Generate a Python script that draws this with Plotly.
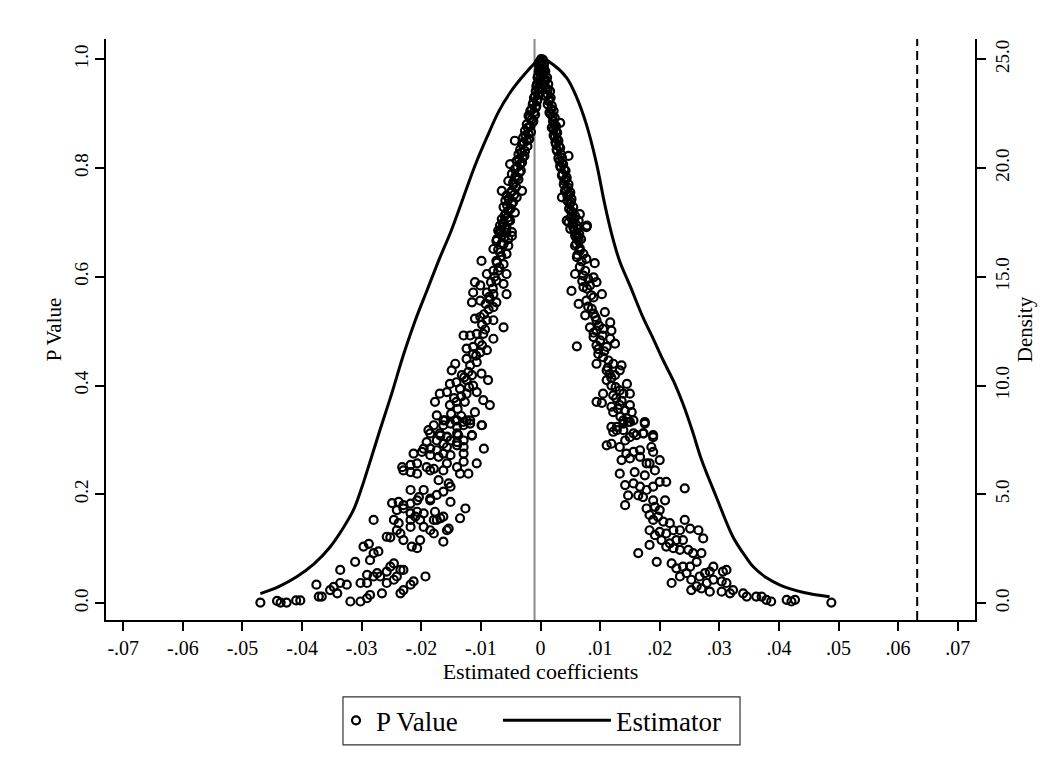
import plotly.graph_objects as go

# ---------------- data ----------------
# kernel density of the estimated coefficients (right axis)
dens_x = [-0.0470, -0.0440, -0.0409, -0.0380, -0.0353, -0.0330, -0.0314, -0.0300, -0.0286,
          -0.0270, -0.0250, -0.0230, -0.0210, -0.0190, -0.0170, -0.0150, -0.0130, -0.0110,
          -0.0090, -0.0070, -0.0050, -0.0030, -0.0012, 0.0001, 0.0021, 0.0044, 0.0061,
          0.0077, 0.0094, 0.0108, 0.0120, 0.0133, 0.0150, 0.0172, 0.0190, 0.0206, 0.0225,
          0.0239, 0.0255, 0.0270, 0.0295, 0.0323, 0.0345, 0.0357, 0.0380, 0.0402, 0.0440, 0.0485]
dens_y = [0.44, 0.75, 1.21, 1.80, 2.58, 3.50, 4.27, 5.30, 6.50,
          7.90, 9.60, 11.40, 13.00, 14.40, 15.80, 17.10, 18.60, 20.10,
          21.40, 22.60, 23.50, 24.20, 24.75, 25.05, 24.75, 24.14, 23.22,
          22.00, 20.20, 18.30, 16.90, 15.70, 14.60, 13.13, 12.10, 11.15, 10.10,
          9.16, 7.90, 6.60, 4.88, 3.04, 2.10, 1.67, 1.15, 0.83, 0.50, 0.29]

# placebo estimates and their p values, left branch, upper part
coef_a = [0.0001, -0.0001, -0.0002, 0.0002, -0.0003, 0.0000, -0.0005, -0.0001, -0.0006, -0.0003,
          -0.0008, -0.0004, -0.0011, -0.0006, -0.0013, -0.0008, -0.0017, -0.0011, -0.0020, -0.0015,
          -0.0012, -0.0023, -0.0017, -0.0026, -0.0020, -0.0029, -0.0023, -0.0031, -0.0043, -0.0034,
          -0.0026, -0.0037, -0.0030, -0.0040, -0.0034, -0.0051, -0.0043, -0.0035, -0.0048, -0.0040,
          -0.0054, -0.0045, -0.0065, -0.0048, -0.0031, -0.0057, -0.0040, -0.0059, -0.0048, -0.0062,
          -0.0054, -0.0043, -0.0059, -0.0065, -0.0051, -0.0068, -0.0057, -0.0071, -0.0048, -0.0065,
          -0.0073, -0.0054,
          -0.0003, 0.0001, -0.0004, 0.0000, -0.0007, -0.0002, -0.0009, -0.0005, -0.0012, -0.0007,
          -0.0015, -0.0009, -0.0018, -0.0013, -0.0021, -0.0016, -0.0025, -0.0019, -0.0028, -0.0022,
          -0.0032, -0.0027, -0.0036, -0.0031, -0.0039, -0.0033, -0.0042, -0.0037, -0.0046, -0.0041,
          -0.0050, -0.0044, -0.0053, -0.0046, -0.0056, -0.0050, -0.0060, -0.0055, -0.0063, -0.0059,
          -0.0067, -0.0061]
pval_a = [1.000, 0.996, 0.987, 0.990, 0.978, 0.975, 0.966, 0.963, 0.954, 0.947,
          0.941, 0.935, 0.929, 0.923, 0.917, 0.911, 0.905, 0.902, 0.896, 0.889,
          0.886, 0.880, 0.877, 0.868, 0.862, 0.856, 0.850, 0.844, 0.850, 0.834,
          0.831, 0.825, 0.819, 0.813, 0.807, 0.807, 0.798, 0.792, 0.789, 0.782,
          0.776, 0.770, 0.758, 0.758, 0.758, 0.749, 0.746, 0.740, 0.734, 0.728,
          0.721, 0.718, 0.715, 0.706, 0.703, 0.694, 0.691, 0.685, 0.682, 0.676,
          0.669, 0.669,
          0.993, 0.982, 0.970, 0.958, 0.950, 0.944, 0.932, 0.926, 0.920, 0.914,
          0.908, 0.898, 0.892, 0.884, 0.874, 0.866, 0.860, 0.853, 0.847, 0.840,
          0.828, 0.822, 0.816, 0.810, 0.802, 0.795, 0.785, 0.779, 0.773, 0.765,
          0.754, 0.751, 0.743, 0.737, 0.731, 0.725, 0.712, 0.709, 0.697, 0.688,
          0.680, 0.672]

# right branch, upper part
coef_b = [0.0004, 0.0006, 0.0003, 0.0008, 0.0005, 0.0011, 0.0007, 0.0013, 0.0009, 0.0016,
          0.0012, 0.0017, 0.0014, 0.0019, 0.0022, 0.0017, 0.0024, 0.0021, 0.0033, 0.0026,
          0.0022, 0.0028, 0.0024, 0.0030, 0.0026, 0.0033, 0.0028, 0.0047, 0.0036, 0.0032,
          0.0038, 0.0034, 0.0042, 0.0037, 0.0044, 0.0040, 0.0036, 0.0047, 0.0043, 0.0050,
          0.0045, 0.0052, 0.0049, 0.0055, 0.0066, 0.0051, 0.0058, 0.0044, 0.0054, 0.0061,
          0.0078, 0.0057, 0.0065, 0.0060, 0.0068,
          0.0002, 0.0006, 0.0003, 0.0009, 0.0006, 0.0012, 0.0009, 0.0015, 0.0012, 0.0018,
          0.0015, 0.0020, 0.0023, 0.0019, 0.0026, 0.0022, 0.0028, 0.0025, 0.0031, 0.0027,
          0.0034, 0.0030, 0.0036, 0.0033, 0.0040, 0.0036, 0.0042, 0.0039, 0.0046, 0.0041,
          0.0048, 0.0045, 0.0051, 0.0048, 0.0054, 0.0051, 0.0057, 0.0055, 0.0062, 0.0058,
          0.0064]
pval_b = [0.999, 0.990, 0.984, 0.978, 0.972, 0.966, 0.960, 0.954, 0.947, 0.941,
          0.935, 0.929, 0.923, 0.914, 0.905, 0.899, 0.892, 0.886, 0.883, 0.877,
          0.871, 0.865, 0.856, 0.850, 0.844, 0.837, 0.831, 0.822, 0.819, 0.813,
          0.807, 0.801, 0.795, 0.789, 0.782, 0.776, 0.746, 0.770, 0.761, 0.755,
          0.749, 0.743, 0.734, 0.728, 0.715, 0.721, 0.712, 0.703, 0.700, 0.694,
          0.694, 0.685, 0.679, 0.672, 0.669,
          0.993, 0.981, 0.969, 0.962, 0.952, 0.944, 0.932, 0.926, 0.917, 0.908,
          0.902, 0.895, 0.880, 0.874, 0.868, 0.860, 0.853, 0.847, 0.840, 0.834,
          0.826, 0.818, 0.810, 0.804, 0.797, 0.786, 0.779, 0.770, 0.764, 0.758,
          0.751, 0.740, 0.737, 0.725, 0.718, 0.709, 0.706, 0.691, 0.688, 0.676,
          0.672]

# left branch, middle part
coef_c = [-0.0062, -0.0054, -0.0068, -0.0057, -0.0048, -0.0074, -0.0062, -0.0054, -0.0079, -0.0068,
          -0.0057, -0.0099, -0.0074, -0.0062, -0.0090, -0.0079, -0.0071, -0.0057, -0.0110, -0.0101,
          -0.0074, -0.0062, -0.0113, -0.0090, -0.0079, -0.0057, -0.0115, -0.0101, -0.0085, -0.0074,
          -0.0079, -0.0110, -0.0101, -0.0090, -0.0079, -0.0062, -0.0129, -0.0118, -0.0107, -0.0096,
          -0.0079, -0.0124, -0.0113, -0.0101, -0.0090, -0.0113, -0.0107, -0.0124, -0.0143, -0.0149,
          -0.0132, -0.0115, -0.0099, -0.0152, -0.0141, -0.0124, -0.0113, -0.0088, -0.0169, -0.0157,
          -0.0135, -0.0124, -0.0107, -0.0096, -0.0177, -0.0152, -0.0141, -0.0127, -0.0085, -0.0174,
          -0.0160, -0.0143, -0.0129, -0.0124, -0.0110, -0.0099, -0.0188, -0.0169, -0.0157, -0.0138,
          -0.0115,
          -0.0065, -0.0071, -0.0066, -0.0073, -0.0069, -0.0077, -0.0083, -0.0080, -0.0086, -0.0092,
          -0.0087, -0.0095, -0.0098, -0.0093, -0.0103, -0.0098, -0.0108, -0.0118, -0.0121, -0.0128,
          -0.0120, -0.0133, -0.0145, -0.0139, -0.0150, -0.0133]
pval_c = [0.700, 0.703, 0.684, 0.681, 0.675, 0.666, 0.660, 0.657, 0.651, 0.645,
          0.642, 0.629, 0.629, 0.623, 0.605, 0.611, 0.611, 0.605, 0.590, 0.584,
          0.593, 0.587, 0.571, 0.571, 0.568, 0.568, 0.553, 0.556, 0.559, 0.553,
          0.544, 0.523, 0.526, 0.520, 0.520, 0.507, 0.492, 0.492, 0.495, 0.495,
          0.486, 0.468, 0.471, 0.461, 0.465, 0.458, 0.443, 0.449, 0.440, 0.428,
          0.419, 0.419, 0.422, 0.403, 0.406, 0.410, 0.400, 0.410, 0.385, 0.388,
          0.394, 0.385, 0.388, 0.373, 0.370, 0.364, 0.370, 0.370, 0.364, 0.345,
          0.336, 0.336, 0.333, 0.336, 0.351, 0.327, 0.318, 0.312, 0.306, 0.309,
          0.309,
          0.662, 0.650, 0.638, 0.626, 0.617, 0.600, 0.590, 0.578, 0.563, 0.550,
          0.540, 0.531, 0.512, 0.503, 0.480, 0.474, 0.455, 0.437, 0.425, 0.415,
          0.397, 0.380, 0.377, 0.357, 0.348, 0.344]

# right branch, middle part
coef_d = [0.0047, 0.0055, 0.0064, 0.0077, 0.0050, 0.0061, 0.0064, 0.0058, 0.0066, 0.0072,
          0.0061, 0.0077, 0.0091, 0.0058, 0.0072, 0.0080, 0.0089, 0.0094, 0.0052, 0.0072,
          0.0083, 0.0064, 0.0077, 0.0089, 0.0103, 0.0075, 0.0089, 0.0094, 0.0108, 0.0083,
          0.0094, 0.0105, 0.0117, 0.0119, 0.0089, 0.0100, 0.0117, 0.0125, 0.0061, 0.0094,
          0.0111, 0.0097, 0.0105, 0.0114, 0.0122, 0.0136, 0.0094, 0.0111, 0.0125, 0.0133,
          0.0111, 0.0119, 0.0145, 0.0133, 0.0105, 0.0122, 0.0139, 0.0150, 0.0094, 0.0103,
          0.0119, 0.0133, 0.0150, 0.0122, 0.0142, 0.0153, 0.0139, 0.0150, 0.0175, 0.0128,
          0.0139, 0.0156, 0.0173, 0.0189, 0.0122,
          0.0060, 0.0066, 0.0062, 0.0069, 0.0066, 0.0075, 0.0070, 0.0078, 0.0085, 0.0080,
          0.0086, 0.0092, 0.0098, 0.0089, 0.0104, 0.0097, 0.0107, 0.0113, 0.0116, 0.0119,
          0.0126, 0.0127, 0.0136, 0.0130, 0.0134, 0.0145]
pval_d = [0.700, 0.697, 0.703, 0.691, 0.688, 0.678, 0.666, 0.657, 0.648, 0.642,
          0.636, 0.633, 0.625, 0.605, 0.602, 0.596, 0.599, 0.590, 0.574, 0.581,
          0.584, 0.550, 0.556, 0.562, 0.568, 0.529, 0.532, 0.520, 0.535, 0.507,
          0.501, 0.504, 0.516, 0.501, 0.489, 0.483, 0.486, 0.477, 0.472, 0.474,
          0.471, 0.458, 0.452, 0.446, 0.440, 0.437, 0.440, 0.428, 0.419, 0.428,
          0.410, 0.400, 0.403, 0.391, 0.385, 0.382, 0.385, 0.385, 0.370, 0.368,
          0.361, 0.364, 0.364, 0.351, 0.354, 0.351, 0.336, 0.333, 0.333, 0.324,
          0.318, 0.312, 0.312, 0.309, 0.315,
          0.660, 0.652, 0.640, 0.628, 0.618, 0.611, 0.592, 0.578, 0.566, 0.545,
          0.541, 0.526, 0.510, 0.497, 0.492, 0.467, 0.463, 0.433, 0.421, 0.414,
          0.397, 0.377, 0.372, 0.357, 0.343, 0.340]

# left branch, lower part
coef_e = [-0.0470, -0.0442, -0.0436, -0.0426, -0.0410, -0.0403, -0.0372, -0.0367, -0.0376, -0.0353,
          -0.0347, -0.0336, -0.0336, -0.0325, -0.0341, -0.0319, -0.0302, -0.0291, -0.0286, -0.0266,
          -0.0235, -0.0230, -0.0218, -0.0213, -0.0193, -0.0302, -0.0291, -0.0280, -0.0274, -0.0269,
          -0.0258, -0.0246, -0.0241, -0.0235, -0.0230, -0.0252, -0.0246, -0.0258, -0.0280, -0.0286,
          -0.0291, -0.0311, -0.0297, -0.0288, -0.0272, -0.0258, -0.0252, -0.0241, -0.0235, -0.0230,
          -0.0218, -0.0216, -0.0207, -0.0202, -0.0196, -0.0185, -0.0179, -0.0174, -0.0163, -0.0157,
          -0.0154, -0.0280, -0.0246, -0.0238, -0.0218, -0.0210, -0.0202, -0.0179, -0.0168, -0.0135,
          -0.0241, -0.0230, -0.0218, -0.0207, -0.0196, -0.0177, -0.0163, -0.0126, -0.0249, -0.0238,
          -0.0230, -0.0218, -0.0207, -0.0185, -0.0151, -0.0218, -0.0204, -0.0196, -0.0185, -0.0174,
          -0.0163, -0.0171, -0.0154, -0.0151, -0.0230, -0.0218, -0.0207, -0.0185, -0.0163, -0.0135,
          -0.0121, -0.0232, -0.0218, -0.0207, -0.0191, -0.0179, -0.0157, -0.0140, -0.0129, -0.0107,
          -0.0213, -0.0199, -0.0185, -0.0171, -0.0163, -0.0151, -0.0129, -0.0196, -0.0185, -0.0174,
          -0.0157, -0.0140, -0.0129, -0.0095, -0.0191, -0.0174, -0.0163, -0.0151, -0.0140, -0.0129,
          -0.0185, -0.0168, -0.0157, -0.0140, -0.0115, -0.0179, -0.0163, -0.0151, -0.0140, -0.0129,
          -0.0118, -0.0098, -0.0163, -0.0140, -0.0118]
pval_e = [0.001, 0.004, 0.001, 0.001, 0.005, 0.005, 0.012, 0.012, 0.034, 0.024,
          0.030, 0.037, 0.061, 0.034, 0.018, 0.003, 0.003, 0.009, 0.015, 0.018,
          0.018, 0.024, 0.034, 0.040, 0.049, 0.037, 0.037, 0.049, 0.055, 0.049,
          0.037, 0.043, 0.049, 0.061, 0.061, 0.067, 0.073, 0.058, 0.092, 0.079,
          0.052, 0.076, 0.104, 0.109, 0.095, 0.122, 0.121, 0.134, 0.128, 0.116,
          0.140, 0.104, 0.101, 0.116, 0.140, 0.134, 0.128, 0.153, 0.113, 0.134,
          0.137, 0.153, 0.153, 0.147, 0.153, 0.159, 0.153, 0.153, 0.156, 0.156,
          0.171, 0.174, 0.165, 0.168, 0.165, 0.168, 0.159, 0.174, 0.184, 0.186,
          0.180, 0.183, 0.189, 0.189, 0.186, 0.208, 0.195, 0.208, 0.192, 0.199,
          0.205, 0.226, 0.220, 0.214, 0.244, 0.241, 0.238, 0.244, 0.244, 0.238,
          0.238, 0.250, 0.254, 0.257, 0.250, 0.247, 0.257, 0.250, 0.260, 0.257,
          0.275, 0.278, 0.272, 0.269, 0.275, 0.272, 0.275, 0.284, 0.284, 0.281,
          0.287, 0.290, 0.287, 0.284, 0.296, 0.299, 0.293, 0.299, 0.296, 0.299,
          0.312, 0.308, 0.305, 0.312, 0.308, 0.327, 0.327, 0.330, 0.324, 0.327,
          0.330, 0.327, 0.336, 0.336, 0.336]

# right branch, lower part
coef_f = [0.0119, 0.0128, 0.0139, 0.0147, 0.0156, 0.0175, 0.0111, 0.0119, 0.0133, 0.0142,
          0.0150, 0.0161, 0.0172, 0.0189, 0.0144, 0.0156, 0.0167, 0.0186, 0.0189, 0.0136,
          0.0150, 0.0167, 0.0178, 0.0192, 0.0200, 0.0133, 0.0158, 0.0175, 0.0183, 0.0142,
          0.0156, 0.0167, 0.0178, 0.0189, 0.0200, 0.0211, 0.0147, 0.0164, 0.0172, 0.0189,
          0.0209, 0.0142, 0.0178, 0.0192, 0.0200, 0.0183, 0.0189, 0.0197, 0.0242, 0.0206,
          0.0217, 0.0242, 0.0183, 0.0192, 0.0200, 0.0211, 0.0223, 0.0234, 0.0251, 0.0265,
          0.0203, 0.0217, 0.0228, 0.0239, 0.0273, 0.0183, 0.0211, 0.0223, 0.0234, 0.0248,
          0.0256, 0.0270, 0.0164, 0.0195, 0.0220, 0.0228, 0.0239, 0.0251, 0.0262, 0.0290,
          0.0306, 0.0312, 0.0220, 0.0234, 0.0245, 0.0253, 0.0267, 0.0276, 0.0284, 0.0253,
          0.0262, 0.0279, 0.0290, 0.0304, 0.0312, 0.0270, 0.0284, 0.0304, 0.0318, 0.0323,
          0.0340, 0.0346, 0.0362, 0.0371, 0.0379, 0.0387, 0.0413, 0.0421, 0.0427, 0.0488]
pval_f = [0.324, 0.318, 0.330, 0.333, 0.336, 0.330, 0.290, 0.293, 0.287, 0.299,
          0.305, 0.309, 0.312, 0.305, 0.275, 0.278, 0.281, 0.287, 0.278, 0.263,
          0.266, 0.269, 0.257, 0.244, 0.263, 0.238, 0.241, 0.235, 0.257, 0.217,
          0.220, 0.214, 0.208, 0.214, 0.223, 0.223, 0.198, 0.198, 0.195, 0.189,
          0.189, 0.180, 0.174, 0.177, 0.171, 0.162, 0.153, 0.159, 0.211, 0.150,
          0.147, 0.153, 0.134, 0.125, 0.131, 0.128, 0.134, 0.134, 0.137, 0.134,
          0.116, 0.110, 0.116, 0.116, 0.119, 0.107, 0.104, 0.101, 0.098, 0.098,
          0.092, 0.092, 0.092, 0.076, 0.073, 0.064, 0.067, 0.067, 0.076, 0.067,
          0.058, 0.061, 0.037, 0.049, 0.055, 0.043, 0.049, 0.055, 0.058, 0.024,
          0.031, 0.037, 0.043, 0.040, 0.037, 0.027, 0.021, 0.021, 0.018, 0.024,
          0.018, 0.012, 0.012, 0.012, 0.006, 0.003, 0.006, 0.003, 0.006, 0.001]

x_ticks = [-0.07, -0.06, -0.05, -0.04, -0.03, -0.02, -0.01, 0, 0.01, 0.02, 0.03, 0.04, 0.05, 0.06, 0.07]
x_tick_text = ["-.07", "-.06", "-.05", "-.04", "-.03", "-.02", "-.01", "0",
               ".01", ".02", ".03", ".04", ".05", ".06", ".07"]
p_ticks = [0.0, 0.2, 0.4, 0.6, 0.8, 1.0]
p_tick_text = ["0.0", "0.2", "0.4", "0.6", "0.8", "1.0"]
d_ticks = [0, 5, 10, 15, 20, 25]
d_tick_text = ["0.0", "5.0", "10.0", "15.0", "20.0", "25.0"]

true_effect = 0.0632      # dashed reference line
placebo_centre = -0.0010  # thin grey line

coef = coef_a + coef_b + coef_c + coef_d + coef_e + coef_f
pval = pval_a + pval_b + pval_c + pval_d + pval_e + pval_f

# ---------------- figure ----------------
FONT = "Liberation Serif, Times New Roman, serif"
x_range = [-0.0729, 0.0729]
p_range = [-0.031, 1.037]
d_range = [p_range[0] * 25, p_range[1] * 25]

fig = go.Figure()
fig.add_trace(go.Scatter(
    x=coef, y=pval, mode="markers", name="P Value", legend="legend",
    marker=dict(symbol="circle-open", size=8, color="black", line=dict(width=2.2, color="black")),
    yaxis="y"))
fig.add_trace(go.Scatter(
    x=dens_x, y=dens_y, mode="lines", name="Estimator", legend="legend2",
    line=dict(color="black", width=3, shape="spline", smoothing=1.0),
    yaxis="y2"))

fig.add_shape(type="line", xref="x", yref="paper", x0=placebo_centre, x1=placebo_centre,
              y0=0, y1=1, line=dict(color="#8a8a8a", width=2), layer="below")
fig.add_shape(type="line", xref="x", yref="paper", x0=true_effect, x1=true_effect,
              y0=0, y1=1, line=dict(color="black", width=2, dash="9px,5px"), layer="above")
# frame around the two legend entries
fig.add_shape(type="rect", xref="paper", yref="paper", x0=0.2727, x1=0.7296, y0=-0.2148, y1=-0.1323,
              line=dict(color="#333333", width=1.2), fillcolor="rgba(0,0,0,0)")

axis_common = dict(showgrid=False, zeroline=False, showline=True, linecolor="black",
                   linewidth=1.5, ticks="outside", ticklen=9, tickwidth=1.5, tickcolor="black",
                   automargin=False)

# the page adds an 8px body margin, so the figure is 8px smaller and the margins shifted
fig.update_layout(
    width=1046, height=764,
    paper_bgcolor="white", plot_bgcolor="white",
    margin=dict(l=98, r=79, t=31, b=152),
    font=dict(family=FONT, color="black", size=20),
    xaxis=dict(range=x_range, tickvals=x_ticks, ticktext=x_tick_text,
               tickfont=dict(size=20, family=FONT),
               title=dict(text="Estimated coefficients", font=dict(size=22, family=FONT), standoff=0),
               **axis_common),
    yaxis=dict(range=p_range, tickvals=p_ticks, ticktext=p_tick_text, tickangle=-90,
               tickfont=dict(size=19, family=FONT),
               title=dict(text="P Value", font=dict(size=21, family=FONT), standoff=3),
               **axis_common),
    yaxis2=dict(range=d_range, tickvals=d_ticks, ticktext=d_tick_text, tickangle=-90,
                overlaying="y", side="right",
                tickfont=dict(size=19, family=FONT),
                title=dict(text="Density", font=dict(size=21, family=FONT), standoff=6),
                **axis_common),
    showlegend=True,
    legend=dict(orientation="h", x=0.2647, xanchor="left", y=-0.1735, yanchor="middle",
                borderwidth=0, bgcolor="rgba(0,0,0,0)", font=dict(size=27, family=FONT),
                itemwidth=30),
    legend2=dict(orientation="h", x=0.451, xanchor="left", y=-0.1735, yanchor="middle",
                 borderwidth=0, bgcolor="rgba(0,0,0,0)", font=dict(size=27, family=FONT),
                 itemwidth=108),
)

fig.write_html("out.html")
